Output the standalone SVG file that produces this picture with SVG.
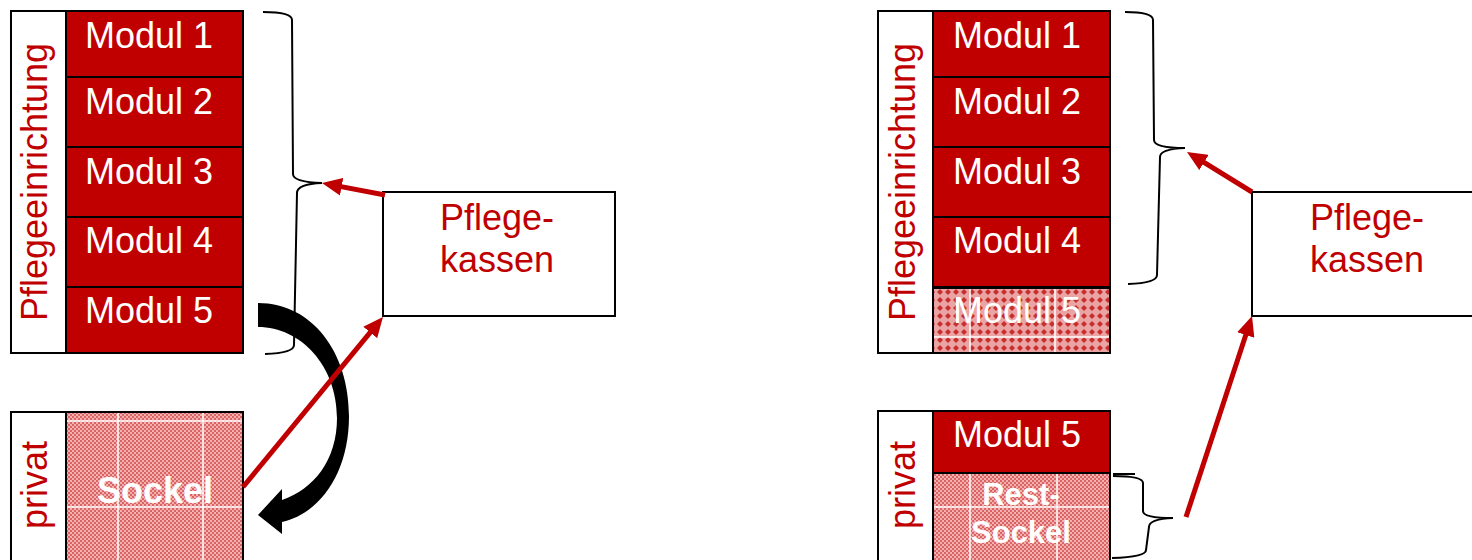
<svg xmlns="http://www.w3.org/2000/svg" width="1472" height="560" viewBox="0 0 1472 560">
<defs>
<style>
.mod{fill:#c00000;stroke:#000;stroke-width:2}
.box{fill:#fff;stroke:#000;stroke-width:2}
.chk{fill:url(#chk);stroke:#000;stroke-width:2}
.dia{fill:url(#dia);stroke:#000;stroke-width:2}
.mt{font-family:"Liberation Sans",Arial,sans-serif;font-size:36px;fill:#fff}
.bt{font-family:"Liberation Sans",Arial,sans-serif;font-weight:bold;fill:#fff}
.lbl{font-family:"Liberation Sans",Arial,sans-serif;font-size:36px;fill:#c00000}
.grid{stroke:#fff;stroke-opacity:.75;stroke-width:2}
.brace{fill:none;stroke:#000;stroke-width:2}
.arr{stroke:#c00000;stroke-width:5;fill:none;marker-end:url(#ah)}
</style>
<pattern id="chk" width="4" height="4" patternUnits="userSpaceOnUse"><rect width="4" height="4" fill="#f2b0b0"/><rect width="2" height="2" fill="#da6464"/><rect x="2" y="2" width="2" height="2" fill="#da6464"/></pattern>
<pattern id="dia" width="8" height="8" patternUnits="userSpaceOnUse"><rect width="8" height="8" fill="#eaa4a4"/><path d="M4,1 L7,4 L4,7 L1,4Z" fill="#c83030"/></pattern>
<marker id="ah" viewBox="0 0 20 18" markerUnits="userSpaceOnUse" markerWidth="20" markerHeight="18" refX="10" refY="9" orient="auto"><path d="M0,0 L20,9 L0,18 Z" fill="#c00000"/></marker>
</defs>
<rect width="1472" height="560" fill="#fff"/>

<!-- Left panel -->
<g id="left-pflegeeinrichtung">
<rect class="box" x="11" y="11" width="232" height="342"/>
<text class="lbl" text-anchor="middle" font-size="37" transform="translate(47,182) rotate(-90)">Pflegeeinrichtung</text>
</g>
<g id="left-modul1"><rect class="mod" x="66" y="11" width="177" height="66"/><text class="mt" x="85" y="48">Modul 1</text></g>
<g id="left-modul2"><rect class="mod" x="66" y="77" width="177" height="70"/><text class="mt" x="85" y="114">Modul 2</text></g>
<g id="left-modul3"><rect class="mod" x="66" y="147" width="177" height="70"/><text class="mt" x="85" y="184">Modul 3</text></g>
<g id="left-modul4"><rect class="mod" x="66" y="217" width="177" height="70"/><text class="mt" x="85" y="253">Modul 4</text></g>
<g id="left-modul5"><rect class="mod" x="66" y="287" width="177" height="66"/><text class="mt" x="85" y="323">Modul 5</text></g>

<g id="left-privat">
<rect class="box" x="11" y="412" width="232" height="160"/>
<text class="lbl" text-anchor="middle" transform="translate(47,485) rotate(-90)">privat</text>
</g>
<g id="left-sockel">
<rect class="chk" x="66" y="412" width="177" height="160"/>
<line class="grid" x1="118" y1="413" x2="118" y2="560"/>
<line class="grid" x1="203" y1="413" x2="203" y2="560"/>
<line class="grid" x1="67" y1="421" x2="242" y2="421"/>
<line class="grid" x1="67" y1="507" x2="242" y2="507"/>
<text class="bt" x="155" y="503" font-size="36" text-anchor="middle">Sockel</text>
</g>

<g id="left-pflegekassen">
<rect class="box" x="383" y="192" width="232" height="124"/>
<text class="lbl" x="497" y="230" text-anchor="middle">Pflege-</text>
<text class="lbl" x="497" y="272" text-anchor="middle">kassen</text>
</g>

<!-- Right panel -->
<g id="right-pflegeeinrichtung">
<rect class="box" x="878" y="11" width="232" height="342"/>
<text class="lbl" text-anchor="middle" font-size="37" transform="translate(915,182) rotate(-90)">Pflegeeinrichtung</text>
</g>
<g id="right-modul1"><rect class="mod" x="933" y="11" width="177" height="66"/><text class="mt" x="953" y="48">Modul 1</text></g>
<g id="right-modul2"><rect class="mod" x="933" y="77" width="177" height="70"/><text class="mt" x="953" y="114">Modul 2</text></g>
<g id="right-modul3"><rect class="mod" x="933" y="147" width="177" height="70"/><text class="mt" x="953" y="184">Modul 3</text></g>
<g id="right-modul4"><rect class="mod" x="933" y="217" width="177" height="70"/><text class="mt" x="953" y="253">Modul 4</text></g>
<g id="right-modul5-hatched">
<rect class="dia" x="933" y="288" width="177" height="65"/>
<line class="grid" x1="970" y1="289" x2="970" y2="352"/>
<line class="grid" x1="1055" y1="289" x2="1055" y2="352"/>
<line class="grid" x1="934" y1="337" x2="1109" y2="337"/>
<text class="mt" x="953" y="323">Modul 5</text>
</g>

<g id="right-privat">
<rect class="box" x="878" y="411" width="232" height="160"/>
<text class="lbl" text-anchor="middle" transform="translate(915,485) rotate(-90)">privat</text>
</g>
<g id="right-modul5"><rect class="mod" x="933" y="411" width="177" height="62"/><text class="mt" x="953" y="447">Modul 5</text></g>
<g id="right-restsockel">
<rect class="chk" x="933" y="473" width="177" height="100"/>
<line class="grid" x1="970" y1="474" x2="970" y2="560"/>
<line class="grid" x1="1057" y1="474" x2="1057" y2="560"/>
<line class="grid" x1="934" y1="507" x2="1109" y2="507"/>
<text class="bt" x="1021" y="505" font-size="31" text-anchor="middle">Rest-</text>
<text class="bt" x="1021" y="543" font-size="31" text-anchor="middle">Sockel</text>
</g>

<g id="right-pflegekassen">
<rect class="box" x="1252" y="192" width="232" height="124"/>
<text class="lbl" x="1367" y="230" text-anchor="middle">Pflege-</text>
<text class="lbl" x="1367" y="272" text-anchor="middle">kassen</text>
</g>

<!-- Connectors -->
<g id="connectors">
<path class="brace" d="M263,12 Q292,12 292,20 L293,174 Q293,182 322,183 Q297,184 297,193 L294,345 Q294,353 265,354"/>
<path class="brace" d="M1125,12 Q1153,12 1153,20 L1154,140 Q1154,148 1185,148 Q1160,149 1160,157 L1157,275 Q1157,283 1128,284"/>
<path class="brace" d="M1113,474 L1135,474 M1113,476 Q1143,476 1143,483 L1143,511 Q1143,518 1173,518 Q1149,519 1149,527 L1146,550 Q1146,557 1112,558"/>
<path d="M258,303 C312,303 349,352 349,416 C349,472 321,513 282,522 L282,534 L258,515 L282,489 L282,500 C314,489 337,460 337,418 C337,366 301,327 258,327 Z" fill="#000"/>
<line class="arr" x1="385" y1="195" x2="331.8" y2="184.9"/>
<line class="arr" x1="243" y1="487" x2="376.6" y2="324.7"/>
<line class="arr" x1="1252" y1="192" x2="1195.5" y2="157.2"/>
<line class="arr" x1="1186" y1="517" x2="1248.9" y2="325.5"/>
</g>
</svg>
